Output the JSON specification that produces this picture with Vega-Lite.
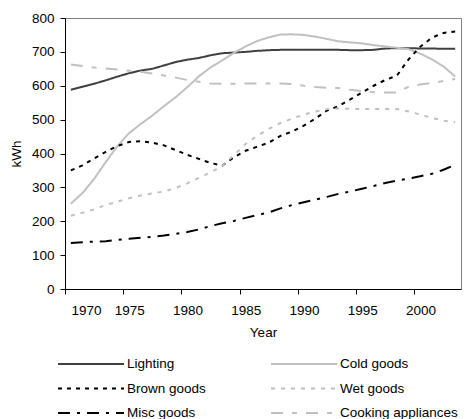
{
  "$schema": "https://vega.github.io/schema/vega-lite/v6.json",
  "width": 396,
  "height": 271,
  "autosize": "none",
  "padding": {"left": 65, "top": 18, "right": 5, "bottom": 130},
  "background": "white",
  "config": {
    "font": "Liberation Sans",
    "view": {"stroke": "#808080", "strokeWidth": 1},
    "axis": {
      "grid": false,
      "domainColor": "#000000",
      "tickColor": "#000000",
      "labelColor": "#000000",
      "titleColor": "#000000",
      "labelFont": "Liberation Sans",
      "titleFont": "Liberation Sans",
      "labelFontSize": 13.5,
      "titleFontSize": 13.5,
      "titleFontWeight": "normal",
      "tickSize": 5,
      "domainWidth": 1,
      "tickWidth": 1
    },
    "legend": {
      "labelFont": "Liberation Sans",
      "labelFontSize": 13.5,
      "labelColor": "#000000"
    }
  },
  "data": {
    "values": [
      {"year": 1970, "Lighting": 588, "Cold goods": 252, "Brown goods": 350, "Wet goods": 216, "Misc goods": 136, "Cooking appliances": 663},
      {"year": 1971, "Lighting": 597, "Cold goods": 283, "Brown goods": 365, "Wet goods": 225, "Misc goods": 138, "Cooking appliances": 658},
      {"year": 1972, "Lighting": 606, "Cold goods": 325, "Brown goods": 385, "Wet goods": 235, "Misc goods": 140, "Cooking appliances": 654},
      {"year": 1973, "Lighting": 616, "Cold goods": 375, "Brown goods": 405, "Wet goods": 248, "Misc goods": 141, "Cooking appliances": 651},
      {"year": 1974, "Lighting": 627, "Cold goods": 422, "Brown goods": 422, "Wet goods": 258, "Misc goods": 145, "Cooking appliances": 648},
      {"year": 1975, "Lighting": 637, "Cold goods": 460, "Brown goods": 434, "Wet goods": 268, "Misc goods": 148, "Cooking appliances": 644},
      {"year": 1976, "Lighting": 645, "Cold goods": 487, "Brown goods": 436, "Wet goods": 276, "Misc goods": 151, "Cooking appliances": 641},
      {"year": 1977, "Lighting": 650, "Cold goods": 512, "Brown goods": 432, "Wet goods": 282, "Misc goods": 154, "Cooking appliances": 636},
      {"year": 1978, "Lighting": 660, "Cold goods": 540, "Brown goods": 424, "Wet goods": 288, "Misc goods": 158, "Cooking appliances": 630},
      {"year": 1979, "Lighting": 670, "Cold goods": 566, "Brown goods": 410, "Wet goods": 298, "Misc goods": 163, "Cooking appliances": 624},
      {"year": 1980, "Lighting": 677, "Cold goods": 596, "Brown goods": 396, "Wet goods": 312, "Misc goods": 168, "Cooking appliances": 617},
      {"year": 1981, "Lighting": 682, "Cold goods": 628, "Brown goods": 384, "Wet goods": 328, "Misc goods": 176, "Cooking appliances": 612},
      {"year": 1982, "Lighting": 690, "Cold goods": 654, "Brown goods": 372, "Wet goods": 344, "Misc goods": 186, "Cooking appliances": 607},
      {"year": 1983, "Lighting": 696, "Cold goods": 675, "Brown goods": 364, "Wet goods": 363, "Misc goods": 194, "Cooking appliances": 606},
      {"year": 1984, "Lighting": 698, "Cold goods": 697, "Brown goods": 389, "Wet goods": 395, "Misc goods": 201, "Cooking appliances": 606},
      {"year": 1985, "Lighting": 700, "Cold goods": 716, "Brown goods": 408, "Wet goods": 428, "Misc goods": 210, "Cooking appliances": 607},
      {"year": 1986, "Lighting": 703, "Cold goods": 732, "Brown goods": 420, "Wet goods": 452, "Misc goods": 218, "Cooking appliances": 607},
      {"year": 1987, "Lighting": 705, "Cold goods": 743, "Brown goods": 432, "Wet goods": 473, "Misc goods": 226, "Cooking appliances": 607},
      {"year": 1988, "Lighting": 706, "Cold goods": 751, "Brown goods": 452, "Wet goods": 490, "Misc goods": 238, "Cooking appliances": 607},
      {"year": 1989, "Lighting": 706, "Cold goods": 752, "Brown goods": 465, "Wet goods": 503, "Misc goods": 248, "Cooking appliances": 605},
      {"year": 1990, "Lighting": 706, "Cold goods": 750, "Brown goods": 482, "Wet goods": 515, "Misc goods": 256, "Cooking appliances": 600},
      {"year": 1991, "Lighting": 706, "Cold goods": 745, "Brown goods": 503, "Wet goods": 524, "Misc goods": 264, "Cooking appliances": 596},
      {"year": 1992, "Lighting": 706, "Cold goods": 738, "Brown goods": 527, "Wet goods": 531, "Misc goods": 272, "Cooking appliances": 594},
      {"year": 1993, "Lighting": 706, "Cold goods": 731, "Brown goods": 540, "Wet goods": 533, "Misc goods": 281, "Cooking appliances": 593},
      {"year": 1994, "Lighting": 705, "Cold goods": 728, "Brown goods": 560, "Wet goods": 532, "Misc goods": 288, "Cooking appliances": 588},
      {"year": 1995, "Lighting": 705, "Cold goods": 725, "Brown goods": 580, "Wet goods": 531, "Misc goods": 296, "Cooking appliances": 584},
      {"year": 1996, "Lighting": 706, "Cold goods": 720, "Brown goods": 600, "Wet goods": 531, "Misc goods": 304, "Cooking appliances": 581},
      {"year": 1997, "Lighting": 710, "Cold goods": 716, "Brown goods": 617, "Wet goods": 531, "Misc goods": 313, "Cooking appliances": 580},
      {"year": 1998, "Lighting": 711, "Cold goods": 712, "Brown goods": 630, "Wet goods": 531, "Misc goods": 320, "Cooking appliances": 580},
      {"year": 1999, "Lighting": 711, "Cold goods": 708, "Brown goods": 678, "Wet goods": 524, "Misc goods": 326, "Cooking appliances": 597},
      {"year": 2000, "Lighting": 710, "Cold goods": 695, "Brown goods": 715, "Wet goods": 515, "Misc goods": 333, "Cooking appliances": 604},
      {"year": 2001, "Lighting": 710, "Cold goods": 678, "Brown goods": 742, "Wet goods": 505, "Misc goods": 340, "Cooking appliances": 608},
      {"year": 2002, "Lighting": 709, "Cold goods": 657, "Brown goods": 756, "Wet goods": 497, "Misc goods": 352, "Cooking appliances": 614},
      {"year": 2003, "Lighting": 709, "Cold goods": 627, "Brown goods": 760, "Wet goods": 492, "Misc goods": 367, "Cooking appliances": 620}
    ]
  },
  "transform": [
    {"fold": ["Lighting", "Cold goods", "Brown goods", "Wet goods", "Misc goods", "Cooking appliances"], "as": ["series", "kwh"]}
  ],
  "mark": {"type": "line", "strokeWidth": 2, "clip": true},
  "encoding": {
    "x": {
      "field": "year",
      "type": "quantitative",
      "scale": {"domain": [1969.5, 2003.5], "nice": false, "zero": false},
      "axis": {
        "title": "Year",
        "values": [1969.5, 1974.5, 1979.5, 1984.5, 1989.5, 1994.5, 1999.5],
        "labelExpr": "format(datum.value + 0.5, 'd')",
        "labelOffset": 6,
        "labelPadding": 9,
        "titlePadding": 9
      }
    },
    "y": {
      "field": "kwh",
      "type": "quantitative",
      "scale": {"domain": [0, 800], "nice": false},
      "axis": {
        "title": "kWh",
        "values": [0, 100, 200, 300, 400, 500, 600, 700, 800],
        "labelPadding": 6,
        "titlePadding": 8
      }
    },
    "color": {
      "field": "series",
      "type": "nominal",
      "scale": {
        "domain": ["Lighting", "Cold goods", "Brown goods", "Wet goods", "Misc goods", "Cooking appliances"],
        "range": ["#404040", "#c0c0c0", "#000000", "#c0c0c0", "#000000", "#c0c0c0"]
      },
      "legend": {
        "title": null,
        "orient": "none",
        "legendX": -8,
        "legendY": 338,
        "columns": 2,
        "direction": "horizontal",
        "symbolType": "stroke",
        "symbolSize": 4356,
        "symbolStrokeWidth": 2,
        "clipHeight": 16,
        "rowPadding": 8.5,
        "columnPadding": 64,
        "labelOffset": 2,
        "padding": 0
      }
    },
    "strokeDash": {
      "field": "series",
      "type": "nominal",
      "scale": {
        "domain": ["Lighting", "Cold goods", "Brown goods", "Wet goods", "Misc goods", "Cooking appliances"],
        "range": [[1, 0], [1, 0], [4, 5], [4, 6], [12, 7, 3, 7], [12, 9, 5, 9]]
      },
      "legend": {
        "title": null,
        "orient": "none",
        "legendX": -8,
        "legendY": 338,
        "columns": 2,
        "direction": "horizontal",
        "symbolType": "stroke",
        "symbolSize": 4356,
        "symbolStrokeWidth": 2,
        "clipHeight": 16,
        "rowPadding": 8.5,
        "columnPadding": 64,
        "labelOffset": 2,
        "padding": 0
      }
    }
  }
}
